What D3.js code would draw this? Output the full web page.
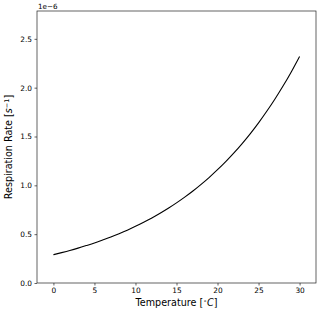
<!DOCTYPE html>
<html>
<head>
<meta charset="utf-8">
<script src="https://cdn.jsdelivr.net/npm/d3@7"></script>
<style>
  body { margin: 0; background: #fff; }
  text { font-family: "DejaVu Sans", sans-serif; fill: #000; }
</style>
</head>
<body>
<svg id="chart" width="320" height="312"></svg>
<script>
// Temperature in degrees C
const temperature = [0, 1, 2, 3, 4, 5, 6, 7, 8, 9, 10, 11, 12, 13, 14, 15,
                     16, 17, 18, 19, 20, 21, 22, 23, 24, 25, 26, 27, 28, 29, 30];
// Respiration rate, units of 1e-6 s^-1
const rate = [0.290, 0.311, 0.333, 0.357, 0.383, 0.410, 0.440, 0.471, 0.505, 0.541,
              0.580, 0.622, 0.666, 0.714, 0.765, 0.820, 0.879, 0.942, 1.010, 1.082,
              1.160, 1.243, 1.332, 1.428, 1.530, 1.640, 1.758, 1.884, 2.019, 2.164, 2.320];
const xTicks = [0, 5, 10, 15, 20, 25, 30];
const yTicks = [0.0, 0.5, 1.0, 1.5, 2.0, 2.5];

const svg = d3.select("#chart");
const margin = {left: 37, right: 4, top: 11, bottom: 29};
const W = 320, H = 312;

const x = d3.scaleLinear().domain([-2, 32]).range([margin.left, W - margin.right]);
const y = d3.scaleLinear().domain([0, 2.785]).range([H - margin.bottom, margin.top]);

// axes
const xAxis = svg.append("g")
    .attr("transform", `translate(0,${H - margin.bottom})`)
    .call(d3.axisBottom(x).tickValues(xTicks).tickSize(2.5).tickPadding(2.5).tickFormat(d3.format("d")));
const yAxis = svg.append("g")
    .attr("transform", `translate(${margin.left},0)`)
    .call(d3.axisLeft(y).tickValues(yTicks).tickSize(2.5).tickPadding(2.5).tickFormat(d3.format(".1f")));

[xAxis, yAxis].forEach(a => {
    a.select(".domain").remove();
    a.selectAll("line").attr("stroke", "#222").attr("stroke-width", 0.7);
    a.selectAll("text").style("font-size", "7.4px").style("font-family", "DejaVu Sans").attr("fill", "#111");
});

// frame
svg.append("rect")
    .attr("x", margin.left).attr("y", margin.top)
    .attr("width", W - margin.left - margin.right)
    .attr("height", H - margin.top - margin.bottom)
    .attr("fill", "none").attr("stroke", "#222").attr("stroke-width", 0.7);

// curve
const line = d3.line()
    .x((d, i) => x(temperature[i]))
    .y(d => y(d))
    .curve(d3.curveMonotoneX);

svg.append("path")
    .datum(rate)
    .attr("d", line)
    .attr("fill", "none")
    .attr("stroke", "#000")
    .attr("stroke-width", 1.1);

// labels
svg.append("text")
    .attr("x", margin.left + 1).attr("y", 8.5)
    .style("font-size", "7.2px")
    .text("1e\u22126");

svg.append("text")
    .attr("x", (x.range()[0] + x.range()[1]) / 2).attr("y", 306)
    .attr("text-anchor", "middle")
    .style("font-size", "9.6px")
    .html('Temperature [<tspan font-size="6px" dy="-3">\u2218</tspan><tspan dy="3" font-style="italic">C</tspan>]');

svg.append("text")
    .attr("transform", `translate(12,${(y.range()[0] + y.range()[1]) / 2}) rotate(-90)`)
    .attr("text-anchor", "middle")
    .style("font-size", "9.6px")
    .html('Respiration Rate [<tspan font-style="italic">s</tspan><tspan font-size="6.5px" dy="-3">\u22121</tspan><tspan dy="3">]</tspan>');
</script>
</body>
</html>
